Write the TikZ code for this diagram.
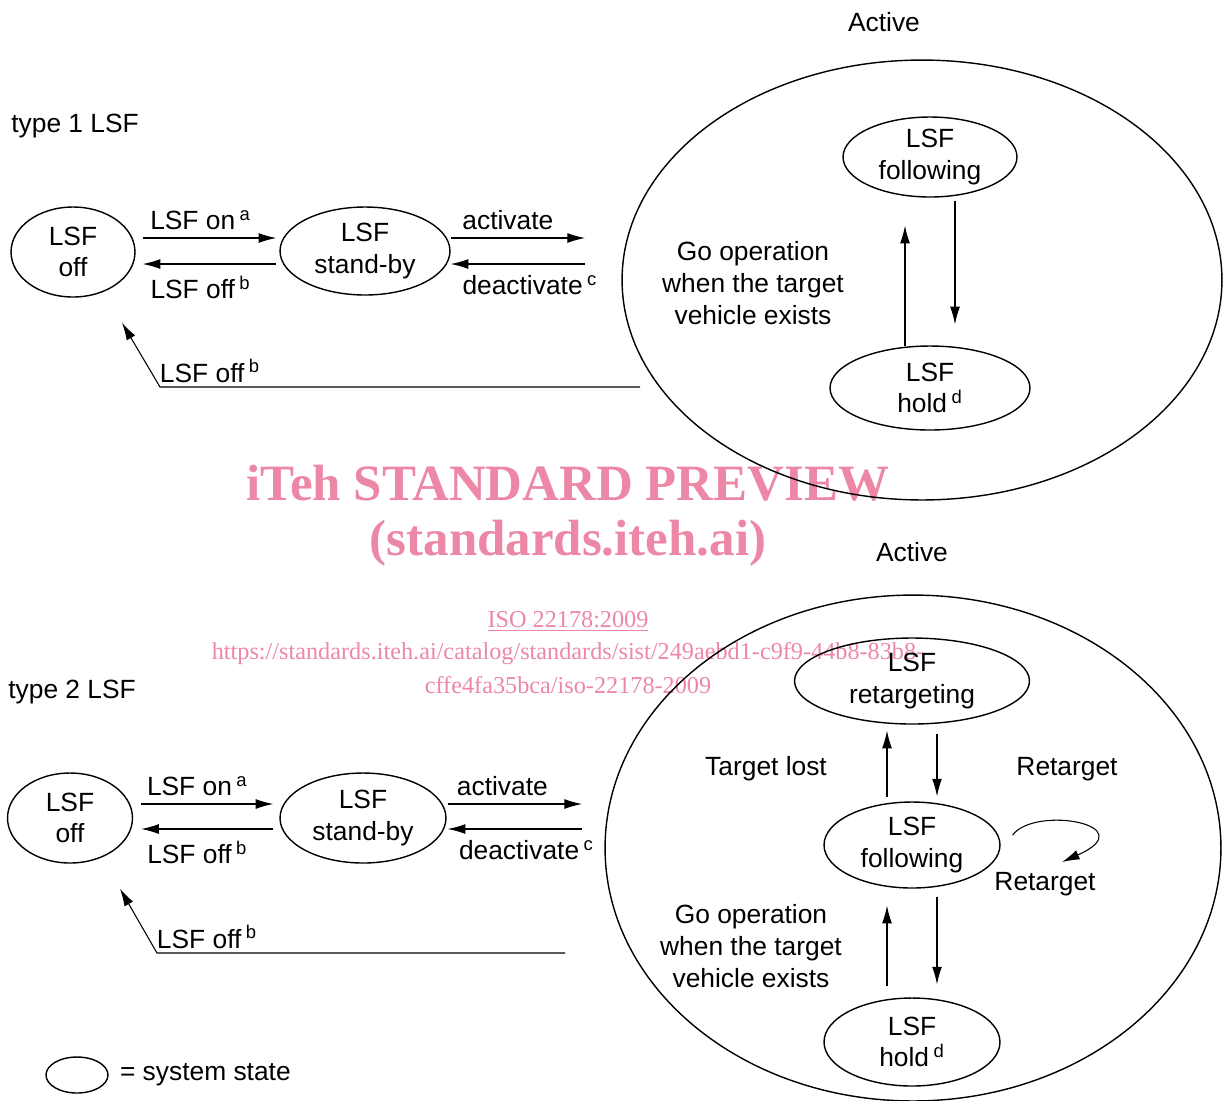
\documentclass[tikz,border=0pt]{standalone}
\usepackage{fontspec}
\setmainfont{Liberation Sans}
\newfontfamily\wmfont{Liberation Serif}
\usetikzlibrary{shapes.geometric,arrows.meta,positioning}
\definecolor{wmpink}{RGB}{236,135,165}
\begin{document}
\begin{tikzpicture}[x=0.02cm, y=-0.02cm, font=\fontsize{15}{18}\selectfont, line join=round, >={Latex[length=10pt,width=5.6pt]},
	state/.style={ellipse, draw, line width=0.8pt, inner sep=0pt, align=center},
	tr/.style={->, line width=0.6pt},
	wm/.style={text=wmpink, font=\wmfont\fontsize{13.8}{17}\selectfont}]
	\useasboundingbox (0,0) rectangle (1223,1100);
	% watermark
	\node[wm, font=\wmfont\bfseries\fontsize{29}{34}\selectfont] (wm1) at (568,483) {iTeh STANDARD PREVIEW};
	\node[wm, font=\wmfont\bfseries\fontsize{29}{34}\selectfont] (wm2) at (568,543) {(standards.iteh.ai)};
	\node[wm] (wm3) at (568,621) {\underline{ISO 22178:2009}};
	\node[wm] (wm4) at (568,654) {https://standards.iteh.ai/catalog/standards/sist/249aebd1-c9f9-44b8-83b8-};
	\node[wm] (wm5) at (568,685) {cffe4fa35bca/iso-22178-2009};
	% type 1
	\node[anchor=west, inner sep=0pt] (t1) at (11,126) {type 1 LSF};
	\node (act1) at (884,22) {Active};
	\node[state, minimum width=12cm, minimum height=8.8cm] (A1) at (922,280) {};
	\node[state, minimum width=2.48cm, minimum height=1.8cm] (off1) at (73,252) {LSF\\off};
	\node[state, minimum width=3.4cm, minimum height=1.76cm] (sb1) at (365,251) {LSF\\stand-by};
	\node[state, minimum width=3.48cm, minimum height=1.6cm] (fo1) at (930,157) {LSF\\following};
	\node[state, minimum width=4cm, minimum height=1.68cm] (ho1) at (930,388) {LSF\\hold\,\textsuperscript{d}};
	\node[align=center] (go1) at (753,283) {Go operation\\when the target\\vehicle exists};
	\path (585,238) coordinate (a1) (585,264) coordinate (d1) (640,387) coordinate (r1) (160,387) coordinate (c1);
	\draw[tr] ([shift={(7,-14)}]off1.east) -- node[above=1pt, xshift=-0.18cm] {LSF on\,\textsuperscript{a}} ([shift={(-3,-13)}]sb1.west);
	\draw[tr] ([shift={(-3,13)}]sb1.west) -- node[below=3pt, xshift=-0.18cm] {LSF off\,\textsuperscript{b}} ([shift={(7,12)}]off1.east);
	\draw[tr] ([shift={(0,-13)}]sb1.east) -- node[above=1pt, xshift=-0.2cm] {activate} (a1);
	\draw[tr] (d1) -- node[below=3pt, xshift=0.24cm] {deactivate\,\textsuperscript{c}} ([shift={(0,13)}]sb1.east);
	\draw[tr] ([shift={(25,3)}]fo1.south) -- ([shift={(25,-21)}]ho1.north);
	\draw[tr] ([shift={(-25,1)}]ho1.north) -- ([shift={(-25,28)}]fo1.south);
	\draw[tr] (r1) -- (c1) -- ([shift={(49,25)}]off1.south);
	\node (lo1) at (210,371) {LSF off\,\textsuperscript{b}};
	% type 2
	\node[anchor=west, inner sep=0pt] (t2) at (8,692) {type 2 LSF};
	\node (act2) at (912,552) {Active};
	\node[state, minimum width=12.32cm, minimum height=10.12cm] (A2) at (913,848) {};
	\node[state, minimum width=2.5cm, minimum height=1.8cm] (off2) at (70,818) {LSF\\off};
	\node[state, minimum width=3.32cm, minimum height=1.8cm] (sb2) at (363,818) {LSF\\stand-by};
	\node[state, minimum width=4.7cm, minimum height=1.72cm] (re2) at (912,681) {LSF\\retargeting};
	\node[state, minimum width=3.52cm, minimum height=1.72cm] (fo2) at (912,845) {LSF\\following};
	\node[state, minimum width=3.52cm, minimum height=1.76cm] (ho2) at (912,1042) {LSF\\hold\,\textsuperscript{d}};
	\node[align=center] (go2) at (751,946) {Go operation\\when the target\\vehicle exists};
	\node (tl2) at (766,769) {Target lost};
	\node (rt2) at (1067,769) {Retarget};
	\node (rs2) at (1045,884) {Retarget};
	\path (582,804) coordinate (a2) (582,829) coordinate (d2) (565,953) coordinate (r2) (157,953) coordinate (c2);
	\draw[tr] ([shift={(8,-14)}]off2.east) -- node[above=1pt, xshift=-0.2cm] {LSF on\,\textsuperscript{a}} ([shift={(-6,-14)}]sb2.west);
	\draw[tr] ([shift={(-6,11)}]sb2.west) -- node[below=3pt, xshift=-0.2cm] {LSF off\,\textsuperscript{b}} ([shift={(8,11)}]off2.east);
	\draw[tr] ([shift={(1,-14)}]sb2.east) -- node[above=1pt, xshift=-0.25cm] {activate} (a2);
	\draw[tr] (d2) -- node[below=3pt, xshift=0.23cm] {deactivate\,\textsuperscript{c}} ([shift={(1,11)}]sb2.east);
	\draw[tr] ([shift={(-25,-4)}]fo2.north) -- ([shift={(-25,6)}]re2.south);
	\draw[tr] ([shift={(25,9)}]re2.south) -- ([shift={(25,-5)}]fo2.north);
	\draw[tr] ([shift={(-25,-11)}]ho2.north) -- ([shift={(-25,17)}]fo2.south);
	\draw[tr] ([shift={(25,8)}]fo2.south) -- ([shift={(25,-13)}]ho2.north);
	\draw[tr] ([shift={(12,-10)}]fo2.east) .. controls (1035,805) and (1145,825) .. (1062,862);
	\draw[tr] (r2) -- (c2) -- ([shift={(50,25)}]off2.south);
	\node (lo2) at (207,937) {LSF off\,\textsuperscript{b}};
	% legend
	\node[state, minimum width=1.24cm, minimum height=0.72cm] (lg) at (77,1075) {};
	\node[right=0.22cm of lg, inner sep=0pt] (lgt) {= system state};
\end{tikzpicture}
\end{document}
